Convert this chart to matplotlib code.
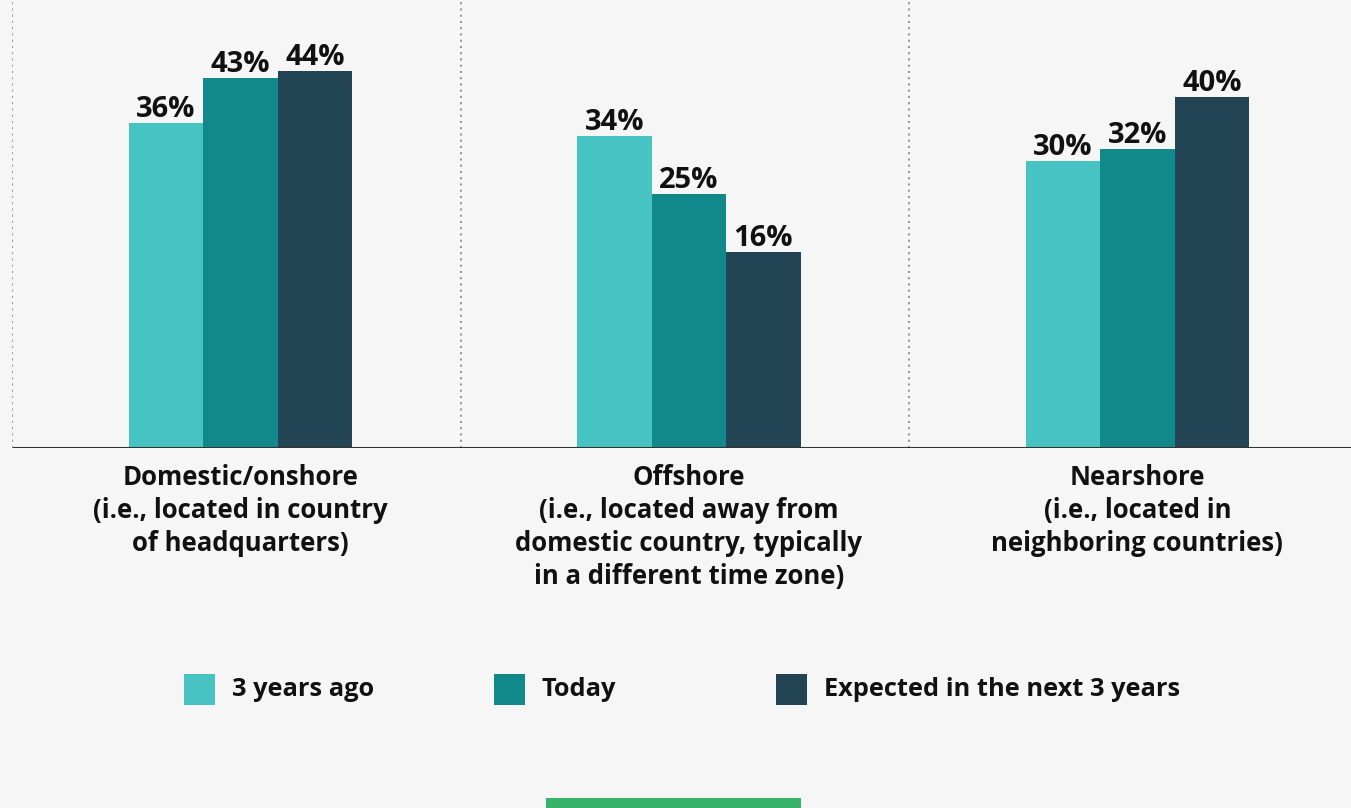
import matplotlib
matplotlib.use("Agg")
import matplotlib.pyplot as plt
from matplotlib.patches import Rectangle
import numpy as np

# ---- data ----
categories = [
    "Domestic/onshore\n(i.e., located in country\nof headquarters)",
    "Offshore\n(i.e., located away from\ndomestic country, typically\nin a different time zone)",
    "Nearshore\n(i.e., located in\nneighboring countries)",
]
series_names = ["3 years ago", "Today", "Expected in the next 3 years"]
three_years_ago = [36, 34, 30]
today = [43, 25, 32]
next_three_years = [44, 16, 40]
series_values = [three_years_ago, today, next_three_years]

# ---- style ----
colors = ["#47c3c3", "#11888a", "#224454"]
bg = "#f6f6f6"
plt.rcParams["font.family"] = ["Open Sans", "DejaVu Sans"]

W, H = 1351, 808
fig = plt.figure(figsize=(W / 100, H / 100), dpi=100, facecolor=bg)

base_px = 448
ax = fig.add_axes([12 / W, 1 - base_px / H, 1339 / W, base_px / H])
ax.set_facecolor("none")
ax.axis("off")

px_per_unit_x = 448.5
x0 = -0.509
ax.set_xlim(x0, x0 + 1339 / px_per_unit_x)
BASE = -14.35
px_per_pct = 6.46
ax.set_ylim(BASE, BASE + base_px / px_per_pct)

x = np.arange(len(categories))
bw = 74.5 / px_per_unit_x
offsets = [-bw, 0, bw]

for j, vals in enumerate(series_values):
    vals = np.array(vals, dtype=float)
    xs = x + offsets[j]
    ax.bar(xs, vals - BASE, bottom=BASE, width=bw, color=colors[j],
           linewidth=0, zorder=2)
    for xi, v in zip(xs, vals):
        ax.annotate(f"{int(v)}%", (xi, v), xytext=(0, 6),
                    textcoords="offset pixels", ha="center", va="baseline",
                    fontsize=21, fontweight="bold", color="#111111", zorder=3)

# separators
for i in range(len(categories)):
    ax.axvline(i - 0.509, ymin=0, ymax=1, color="#9a9a9a", lw=1.5,
               linestyle=(0, (1, 2)), zorder=1)
ax.axhline(BASE, xmin=2 / 1339, xmax=1, color="#333333", lw=2.2, zorder=4)

# category labels
for i, lab in enumerate(categories):
    ax.annotate(lab, (i, 0), xycoords=("data", "axes fraction"),
                xytext=(0, -16), textcoords="offset pixels",
                ha="center", va="top", fontsize=18.5, fontweight="bold",
                color="#111111", linespacing=1.28, annotation_clip=False)

# legend (manual)
sq_x = [184, 494, 776]
for j, name in enumerate(series_names):
    fig.patches.append(Rectangle((sq_x[j] / W, 1 - 705 / H), 31 / W, 31 / H,
                                 transform=fig.transFigure, color=colors[j],
                                 linewidth=0))
    fig.text((sq_x[j] + 48) / W, 1 - 689 / H, name, ha="left", va="center",
             fontsize=18.3, fontweight="bold", color="#111111")

# green accent bar
fig.patches.append(Rectangle((546 / W, 0), 255 / W, 10 / H,
                             transform=fig.transFigure, color="#38b36a",
                             linewidth=0))

fig.savefig("out.png", dpi=100, facecolor=bg)
